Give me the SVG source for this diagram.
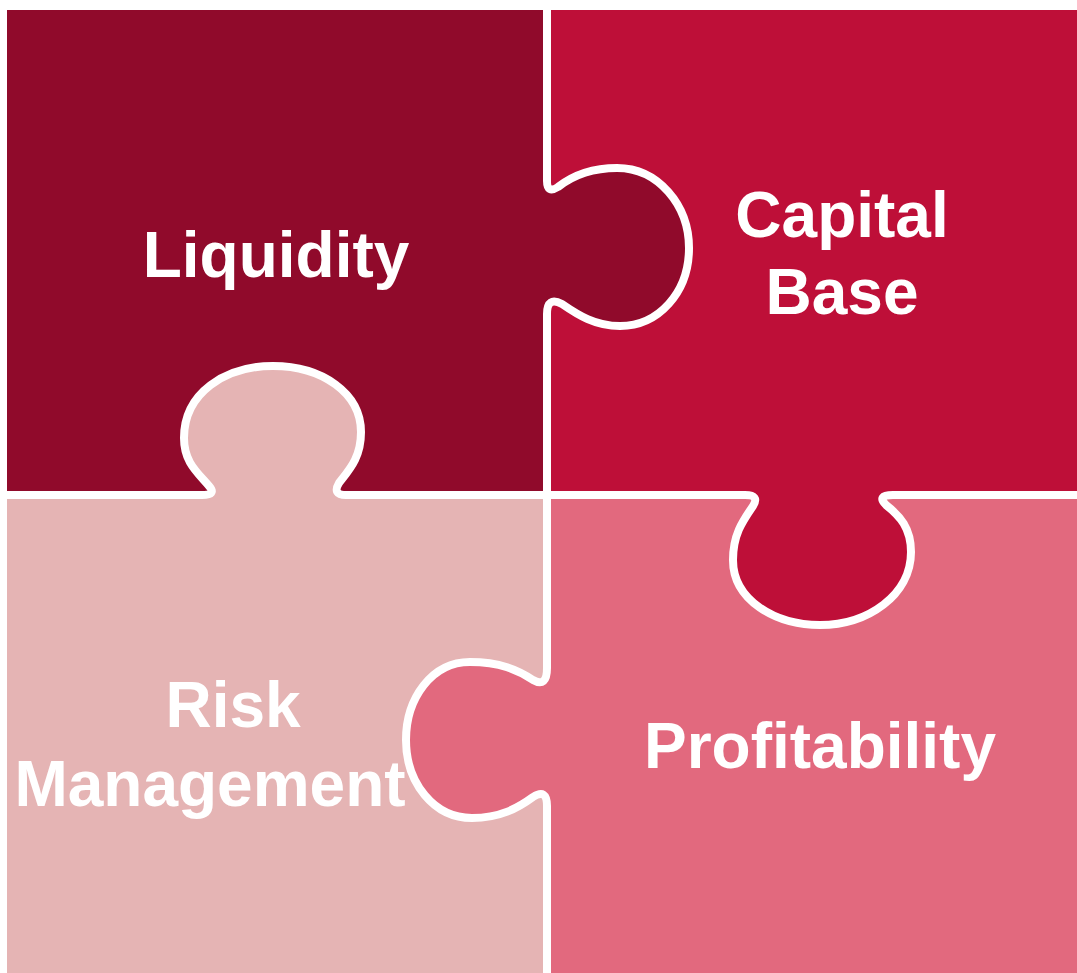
<svg xmlns="http://www.w3.org/2000/svg" width="1077" height="973" viewBox="0 0 1077 973">
<style>
.lbl{font-family:"Liberation Sans",Arial,sans-serif;font-weight:bold;font-size:64px;fill:#ffffff;text-anchor:middle}
.cut{fill:none;stroke:#ffffff;stroke-width:8;stroke-linejoin:round;stroke-linecap:round}
</style>
<rect width="1077" height="973" fill="#ffffff"/>
<g id="liquidity">
<path d="M7,10 H547 V181 Q547,194 558,187 C572,176 590,168 617,168 C658,168 689,205 689,248 C689,293 658,326 620,326 C595,326 578,315 562,304 Q547,296 547,314 V495 H346 Q332,495 339,483 C349,470 361,458 361,432 C361,393 322,366 273,366 C225,366 184,393 184,438 C184,462 197,472 209,486 Q217,495 202,495 H7 Z" fill="#900A2B"/>
<text class="lbl" x="276" y="277">Liquidity</text>
</g>
<g id="capital-base">
<path d="M547,10 H1077 V495 H893 Q876,495 886,505 C900,516 911,528 911,552 C911,595 868,625 820,625 C775,625 733,600 733,560 C733,535 742,522 753,506 Q760,495 745,495 H547 V314 Q547,296 562,304 C578,315 595,326 620,326 C658,326 689,293 689,248 C689,205 658,168 617,168 C590,168 572,176 558,187 Q547,194 547,181 Z" fill="#BE0F38"/>
<text class="lbl" x="842" y="237">Capital</text>
<text class="lbl" x="842" y="314">Base</text>
</g>
<g id="risk-management">
<path d="M7,495 H202 Q217,495 209,486 C197,472 184,462 184,438 C184,393 225,366 273,366 C322,366 361,393 361,432 C361,458 349,470 339,483 Q332,495 346,495 H547 V668 Q547,688 533,680 C518,670 500,662 470,662 C432,662 406,698 406,740 C406,783 434,818 472,818 C500,818 518,808 533,797 Q547,788 547,806 V973 H7 Z" fill="#E5B4B4"/>
<text class="lbl" x="233" y="727">Risk</text>
<text class="lbl" x="210" y="806">Management</text>
</g>
<g id="profitability">
<path d="M547,495 H745 Q760,495 753,506 C742,522 733,535 733,560 C733,600 775,625 820,625 C868,625 911,595 911,552 C911,528 900,516 886,505 Q876,495 893,495 H1077 V973 H547 V806 Q547,788 533,797 C518,808 500,818 472,818 C434,818 406,783 406,740 C406,698 432,662 470,662 C500,662 518,670 533,680 Q547,688 547,668 Z" fill="#E2697E"/>
<text class="lbl" x="820" y="768">Profitability</text>
</g>
<g id="connectors">
<path class="cut" d="M547,6 V181 Q547,194 558,187 C572,176 590,168 617,168 C658,168 689,205 689,248 C689,293 658,326 620,326 C595,326 578,315 562,304 Q547,296 547,314 V668 Q547,688 533,680 C518,670 500,662 470,662 C432,662 406,698 406,740 C406,783 434,818 472,818 C500,818 518,808 533,797 Q547,788 547,806 V977"/>
<path class="cut" d="M3,495 H202 Q217,495 209,486 C197,472 184,462 184,438 C184,393 225,366 273,366 C322,366 361,393 361,432 C361,458 349,470 339,483 Q332,495 346,495 H745 Q760,495 753,506 C742,522 733,535 733,560 C733,600 775,625 820,625 C868,625 911,595 911,552 C911,528 900,516 886,505 Q876,495 893,495 H1081"/>
</g>
</svg>
